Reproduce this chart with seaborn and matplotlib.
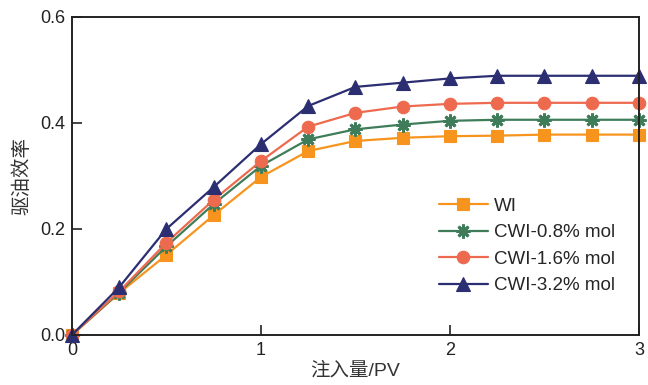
import numpy as np
import pandas as pd
import matplotlib
matplotlib.use("Agg")
import matplotlib.pyplot as plt
import seaborn as sns

# Injected pore volumes and displacement efficiency per case
pv = [0, 0.25, 0.5, 0.75, 1.0, 1.25, 1.5, 1.75, 2.0, 2.25, 2.5, 2.75, 3.0]
wi = [0, 0.079, 0.151, 0.226, 0.298, 0.347, 0.366, 0.372, 0.375, 0.376, 0.378, 0.378, 0.378]
cwi_08 = [0, 0.080, 0.167, 0.247, 0.319, 0.369, 0.388, 0.397, 0.404, 0.406, 0.406, 0.406, 0.406]
cwi_16 = [0, 0.082, 0.174, 0.255, 0.328, 0.393, 0.419, 0.431, 0.436, 0.438, 0.438, 0.438, 0.438]
cwi_32 = [0, 0.090, 0.200, 0.279, 0.360, 0.432, 0.468, 0.476, 0.484, 0.489, 0.489, 0.489, 0.489]

labels = ["WI", "CWI-0.8% mol", "CWI-1.6% mol", "CWI-3.2% mol"]
series = [wi, cwi_08, cwi_16, cwi_32]
colors = ["#F7941D", "#3F7D5A", "#EE6A4E", "#2B2F72"]
markers = ["s", (8, 2, 0), "o", "^"]
sizes = [8, 10, 9, 10]

sns.set_style("ticks")
plt.rcParams["font.family"] = ["Liberation Sans", "Noto Sans CJK SC", "DejaVu Sans"]

df = pd.DataFrame({
    "pv": np.tile(pv, len(labels)),
    "eff": np.concatenate(series),
    "case": np.repeat(labels, len(pv)),
})

fig = plt.figure(figsize=(6.48, 3.85), dpi=100)
ax = fig.add_axes([0.111, 0.130, 0.875, 0.826])

for lab, col, mk, ms in zip(labels, colors, markers, sizes):
    sub = df[df["case"] == lab]
    sns.lineplot(data=sub, x="pv", y="eff", ax=ax, color=col, marker=mk,
                 markersize=ms, markeredgecolor=col, markeredgewidth=2 if mk == (8, 2, 0) else 0.8,
                 linewidth=1.6, label=lab, clip_on=False)

ax.set_xlim(0, 3)
ax.set_ylim(0, 0.6)
ax.set_xticks([0, 1, 2, 3])
ax.set_yticks([0.0, 0.2, 0.4, 0.6])
ax.set_xticklabels(["0", "1", "2", "3"])
ax.set_yticklabels(["0.0", "0.2", "0.4", "0.6"])
ax.tick_params(direction="in", length=7, width=1.2, labelsize=13, colors="#222222",
               labelcolor="#222222", pad=5)
for s in ax.spines.values():
    s.set_linewidth(1.4)
    s.set_color("#222222")

ax.set_xlabel("注入量/PV", fontsize=14, color="#333333", labelpad=2)
ax.set_ylabel("驱油效率", fontsize=14, color="#333333", labelpad=6)

leg = ax.legend(loc="lower right", bbox_to_anchor=(0.988, 0.075), frameon=False,
                fontsize=13.5, handlelength=2.6, labelspacing=0.5, handletextpad=0.35)

fig.savefig("out.png", dpi=100)
